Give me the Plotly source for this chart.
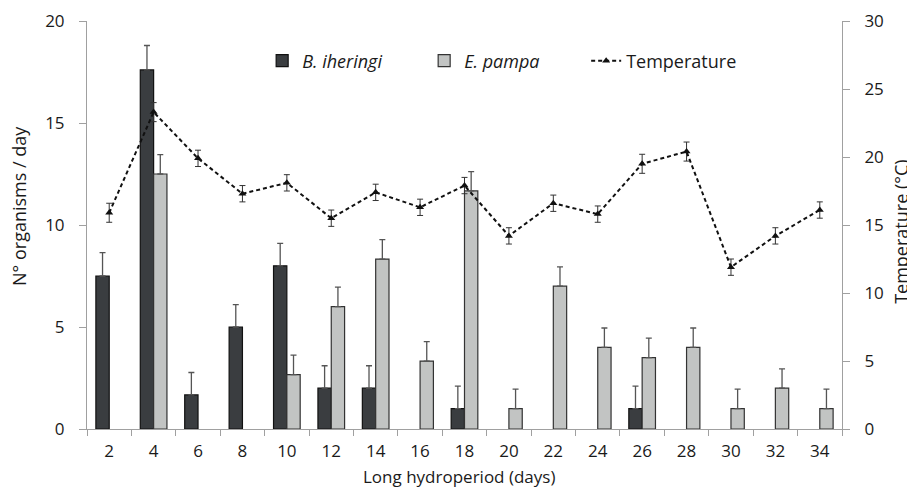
import plotly.graph_objects as go

days = ["2", "4", "6", "8", "10", "12", "14", "16", "18", "20", "22", "24", "26", "28", "30", "32", "34"]
b_iheringi = [7.5, 17.6, 1.67, 5, 8, 2, 2, None, 1, None, None, None, 1, None, None, None, None]
b_iheringi_err = [1.15, 1.2, 1.1, 1.1, 1.1, 1.1, 1.1, None, 1.1, None, None, None, 1.1, None, None, None, None]
e_pampa = [None, 12.5, None, None, 2.67, 6, 8.33, 3.33, 11.67, 1, 7, 4, 3.5, 4, 1, 2, 1]
e_pampa_err = [None, 0.95, None, None, 0.95, 0.95, 0.95, 0.95, 0.95, 0.95, 0.95, 0.95, 0.95, 0.95, 0.95, 0.95, 0.95]
temperature = [15.9, 23.3, 19.9, 17.3, 18.1, 15.5, 17.4, 16.3, 17.9, 14.2, 16.6, 15.8, 19.5, 20.4, 11.9, 14.2, 16.1]
temperature_err = [0.7, 0.7, 0.6, 0.6, 0.6, 0.6, 0.6, 0.6, 0.6, 0.6, 0.6, 0.6, 0.7, 0.7, 0.6, 0.6, 0.6]

FONT = "Open Sans"
TXT = "#1a1a1a"

fig = go.Figure()
fig.add_trace(go.Bar(
    x=days, y=b_iheringi, name="<i>B. iheringi</i>",
    marker=dict(color="#3a3d40", line=dict(color="#111111", width=1.2)),
    error_y=dict(type="data", array=b_iheringi_err, arrayminus=[0]*len(days), symmetric=False,
                 color="#555555", thickness=1.3, width=3),
))
fig.add_trace(go.Bar(
    x=days, y=e_pampa, name="<i>E. pampa</i>",
    marker=dict(color="#c2c4c3", line=dict(color="#333333", width=1.2)),
    error_y=dict(type="data", array=e_pampa_err, arrayminus=[0]*len(days), symmetric=False,
                 color="#555555", thickness=1.3, width=3),
))
fig.add_trace(go.Scatter(
    x=days, y=temperature, name="Temperature", yaxis="y2", mode="lines+markers",
    line=dict(color="#111111", dash="4px,3px", width=2),
    marker=dict(symbol="triangle-up", size=7, color="#111111"),
    error_y=dict(type="data", array=temperature_err, color="#333333", thickness=1, width=3),
))

fig.update_layout(
    width=907, height=482,
    margin=dict(l=79, r=73, t=13, b=61, autoexpand=False),
    paper_bgcolor="white", plot_bgcolor="white",
    font=dict(family=FONT, size=17, color=TXT),
    barmode="group", bargap=0.4, bargroupgap=0,
    showlegend=True,
    legend=dict(orientation="h", x=0.232, y=0.902, xanchor="left", yanchor="middle",
                font=dict(size=18, family=FONT, color=TXT), bgcolor="rgba(0,0,0,0)",
                entrywidth=117, entrywidthmode="pixels", traceorder="normal"),
    xaxis=dict(
        type="category", range=[-0.5, 16.5], showline=True, linecolor="#a0a0a0", linewidth=1,
        ticks="outside", tickson="boundaries", ticklen=6, tickcolor="#a0a0a0",
        showgrid=False, zeroline=False, automargin=False, ticklabelstandoff=7,
        tickfont=dict(size=17),
    ),
    yaxis=dict(
        range=[0, 20], tickvals=[0, 5, 10, 15, 20], showline=True, linecolor="#a0a0a0",
        ticks="outside", ticklen=7, tickcolor="#a0a0a0", showgrid=False, zeroline=False,
        automargin=False, ticklabelstandoff=11,
        tickfont=dict(size=17),
    ),
    yaxis2=dict(
        range=[0, 30], tickvals=[0, 5, 10, 15, 20, 25, 30], overlaying="y", side="right",
        showline=True, linecolor="#a0a0a0", ticks="outside", ticklen=7, tickcolor="#a0a0a0",
        showgrid=False, zeroline=False, automargin=False, ticklabelstandoff=11,
        tickfont=dict(size=17),
    ),
    annotations=[
        dict(text="N° organisms / day", xref="paper", yref="paper", x=-0.0901, y=0.5466,
             textangle=-90, showarrow=False, xanchor="center", yanchor="middle",
             font=dict(size=18, family=FONT, color=TXT)),
        dict(text="Temperature (°C)", xref="paper", yref="paper", x=1.078, y=0.483,
             textangle=-90, showarrow=False, xanchor="center", yanchor="middle",
             font=dict(size=18, family=FONT, color=TXT)),
        dict(text="Long hydroperiod (days)", xref="paper", yref="paper", x=0.4927, y=-0.117,
             showarrow=False, xanchor="center", yanchor="middle",
             font=dict(size=17, family=FONT, color=TXT)),
    ],
)

fig.write_html("out.html")
